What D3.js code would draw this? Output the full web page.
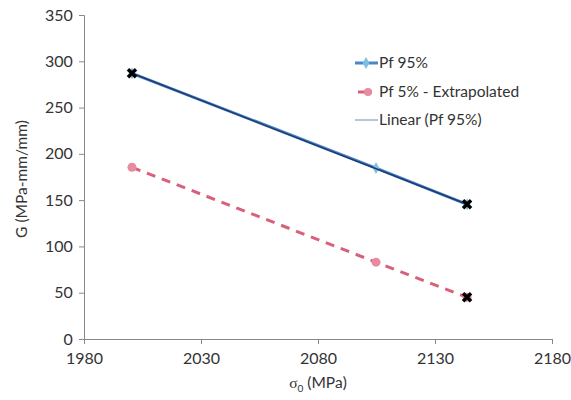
<!DOCTYPE html>
<html><head><meta charset="utf-8">
<script src="https://cdn.jsdelivr.net/npm/d3@7/dist/d3.min.js"></script>
<style>
body{margin:0;background:#fff;}
text{font-family:Lato,"Open Sans",sans-serif;fill:#333;}
</style></head><body>
<svg id="c" width="571" height="400"></svg>
<script>
const xTicks = [1980, 2030, 2080, 2130, 2180];
const yTicks = [0, 50, 100, 150, 200, 250, 300, 350];
const pf95X = [2000.5, 2104.8, 2143.7];
const pf95Y = [287, 184.6, 145.5];
const pf5X = [2000.5, 2104.8, 2143.7];
const pf5Y = [185.5, 83, 45];
const crossX = [2000.5, 2143.7, 2143.7];
const crossY = [287, 145.5, 45];
const legendLabels = ["Pf 95%", "Pf 5% - Extrapolated", "Linear (Pf 95%)"];

const svg = d3.select("#c");
const x = d3.scaleLinear().domain([1980, 2180]).range([84, 552]);
const y = d3.scaleLinear().domain([0, 350]).range([339, 15]);

const xa = svg.append("g").attr("transform","translate(0,339)")
  .call(d3.axisBottom(x).tickValues(xTicks).tickSizeOuter(0).tickSize(5).tickFormat(d3.format("d")));
const ya = svg.append("g").attr("transform","translate(84,0)")
  .call(d3.axisLeft(y).tickValues(yTicks).tickSizeOuter(0).tickSize(5));
[xa, ya].forEach(a=>{
  a.selectAll("path,line").attr("stroke","#888");
  a.selectAll("text").style("font-size","16px").attr("fill","#333");
});
xa.selectAll("text").attr("dy","1.05em");
ya.selectAll("text").attr("dx","-0.2em");

// y label
svg.append("text").attr("transform","translate(27,179) rotate(-90)")
  .attr("text-anchor","middle").style("font-size","15.5px").text("G (MPa-mm/mm)");
// x label
const xl = svg.append("text").attr("x",318).attr("y",388).attr("text-anchor","middle").style("font-size","15.5px");
xl.append("tspan").style("font-family","'Liberation Serif',serif").text("σ");
xl.append("tspan").attr("dy",4).style("font-size","10px").text("0");
xl.append("tspan").attr("dy",-4).text(" (MPa)");

const line = d3.line().x(d=>x(d[0])).y(d=>y(d[1]));
const p95 = pf95X.map((v,i)=>[v,pf95Y[i]]);
const p5 = pf5X.map((v,i)=>[v,pf5Y[i]]);

// Pf 5% dashed
svg.append("path").datum(p5).attr("d",line).attr("fill","none")
  .attr("stroke","#d9607a").attr("stroke-width",3).attr("stroke-dasharray","9,7");
svg.selectAll(".m5").data(p5).join("circle").attr("cx",d=>x(d[0])).attr("cy",d=>y(d[1]))
  .attr("r",4.5).attr("fill","#e88aa0");
// Pf 95% line
svg.append("path").datum(p95).attr("d",line).attr("fill","none")
  .attr("stroke","#4a86c8").attr("stroke-width",3);
svg.selectAll(".m95").data(p95).join("path")
  .attr("d",d3.symbol(d3.symbolDiamond,40))
  .attr("transform",d=>`translate(${x(d[0])},${y(d[1])})`).attr("fill","#7cc0e0");
// linear trend
const ext = [p95[0], p95[2]];
svg.append("path").datum(ext).attr("d",line).attr("fill","none")
  .attr("stroke","#1f3a6e").attr("stroke-width",1.5);
// crosses
svg.selectAll(".cx").data(crossX.map((v,i)=>[v,crossY[i]])).join("path")
  .attr("d","M-4,-4L4,4M-4,4L4,-4")
  .attr("transform",d=>`translate(${x(d[0])},${y(d[1])})`)
  .attr("fill","none").attr("stroke","#000").attr("stroke-width",3.5);

// legend
const lg = svg.append("g");
const ly = [63, 92, 120];
lg.append("line").attr("x1",355).attr("x2",378).attr("y1",ly[0]).attr("y2",ly[0]).attr("stroke","#4a86c8").attr("stroke-width",3);
lg.append("path").attr("d",d3.symbol(d3.symbolDiamond,40)).attr("transform",`translate(366,${ly[0]})`).attr("fill","#7cc0e0");
lg.append("line").attr("x1",358).attr("x2",372).attr("y1",ly[1]).attr("y2",ly[1]).attr("stroke","#d9607a").attr("stroke-width",3);
lg.append("circle").attr("cx",368).attr("cy",ly[1]).attr("r",4).attr("fill","#e88aa0");
lg.append("line").attr("x1",355).attr("x2",378).attr("y1",ly[2]).attr("y2",ly[2]).attr("stroke","#8aa0c0").attr("stroke-width",1.2);
lg.selectAll(".lt").data(legendLabels).join("text").attr("x",379).attr("y",(d,i)=>ly[i]+5)
  .style("font-size","15.5px").text(d=>d);
</script></body></html>
